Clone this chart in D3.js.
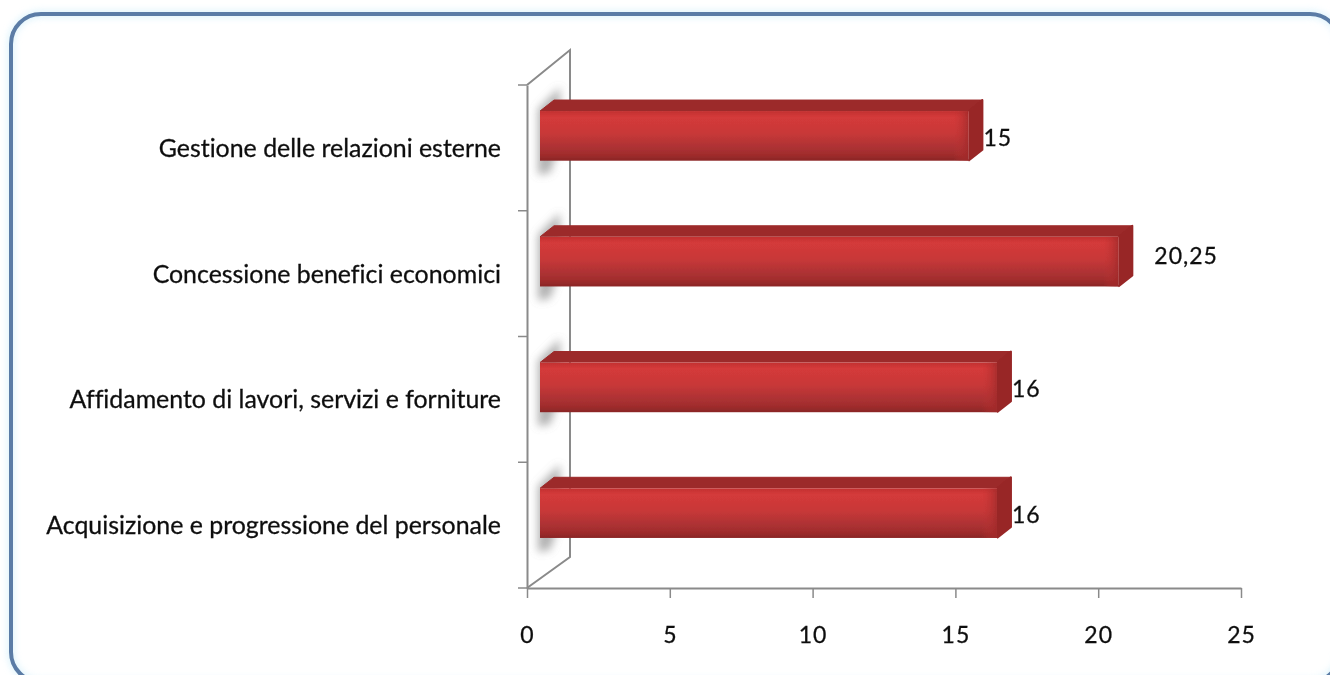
<!DOCTYPE html>
<html>
<head>
<meta charset="utf-8">
<script src="https://cdn.jsdelivr.net/npm/d3@7"></script>
<style>
  html, body { margin: 0; padding: 0; background: #fff; overflow: hidden; }
  svg { display: block; }
  text { font-family: Lato, "Open Sans", sans-serif; fill: #111; stroke: #111; stroke-width: 0.3px; font-variant-ligatures: none; }
</style>
</head>
<body>
<svg id="chart" width="1330" height="675"></svg>
<script>
"use strict";

var categories = [
  "Gestione delle relazioni esterne",
  "Concessione benefici economici",
  "Affidamento di lavori, servizi e forniture",
  "Acquisizione e progressione del personale"
];
var values = [15, 20.25, 16, 16];
var xTickValues = [0, 5, 10, 15, 20, 25];

var config = {
  x0: 527, x1: 1241, yTop: 85, yBottom: 588,
  wallDx: 43, wallDy: 31,
  barDx: 13, barDy: 12,
  sideDx: 14, sideDy: 11,
  axisColor: "#8a8a8a"
};

var svg = d3.select("#chart");
var defs = svg.append("defs");

var frontGrad = defs.append("linearGradient").attr("id", "barFront")
  .attr("x1", 0).attr("y1", 0).attr("x2", 0).attr("y2", 1);
[[0, "#c23030"], [0.12, "#d43a3a"], [0.45, "#c83838"], [0.72, "#ae3234"], [0.88, "#a02c2c"], [1, "#8a2626"]]
  .forEach(function(s) { frontGrad.append("stop").attr("offset", s[0]).attr("stop-color", s[1]); });

var endGrad = defs.append("linearGradient").attr("id", "barEnd")
  .attr("x1", 0).attr("y1", 0).attr("x2", 1).attr("y2", 0);
[[0, "#c23232", 0], [1, "#a02a2a", 0.8]]
  .forEach(function(s) {
    endGrad.append("stop").attr("offset", s[0]).attr("stop-color", s[1]).attr("stop-opacity", s[2]);
  });

defs.append("filter").attr("id", "soft").attr("x", "-80%").attr("y", "-30%").attr("width", "260%").attr("height", "160%")
  .append("feGaussianBlur").attr("stdDeviation", 4);
defs.append("filter").attr("id", "jpeg")
  .append("feGaussianBlur").attr("stdDeviation", 0.45);
defs.append("filter").attr("id", "glow").attr("x", "-5%").attr("y", "-5%").attr("width", "110%").attr("height", "110%")
  .append("feGaussianBlur").attr("stdDeviation", 3);

// rounded frame runs off the page on the right and at the bottom
svg.append("rect")
  .attr("x", 11).attr("y", 14).attr("width", 1329).attr("height", 668).attr("rx", 30)
  .attr("fill", "none").attr("stroke", "#cfeefa").attr("stroke-width", 8)
  .attr("filter", "url(#glow)").attr("opacity", 0.6);
svg.append("rect")
  .attr("x", 11).attr("y", 14).attr("width", 1329).attr("height", 668).attr("rx", 30)
  .attr("fill", "none").attr("stroke", "#5b7ca6").attr("stroke-width", 4);

var x = d3.scaleLinear().domain([0, 25]).range([config.x0, config.x1]);
var y = d3.scaleBand().domain(categories).range([config.yTop, config.yBottom]).paddingInner(0);
var barHeight = y.bandwidth() * 0.395;

var plot = svg.append("g").attr("filter", "url(#jpeg)");

// side wall of the 3d box
plot.append("path")
  .attr("d", d3.line()([
    [config.x0, config.yBottom],
    [config.x0 + config.wallDx, config.yBottom - config.wallDy],
    [config.x0 + config.wallDx, config.yTop - 35],
    [config.x0, config.yTop]
  ]))
  .attr("fill", "none").attr("stroke", config.axisColor).attr("stroke-width", 2);

var yAxis = plot.append("g")
  .attr("transform", "translate(" + config.x0 + ",0)")
  .call(d3.axisLeft(y).tickSize(0).tickPadding(26).tickSizeOuter(0));
yAxis.select(".domain").attr("stroke", config.axisColor).attr("stroke-width", 2);
yAxis.selectAll("text").style("font-size", "24.9px").attr("dy", "0.36em");

// category ticks sit on the band edges, not the centres
plot.selectAll("line.catTick")
  .data(categories.concat([null]))
  .enter().append("line")
  .classed("catTick", true)
  .attr("x1", config.x0 - 9).attr("x2", config.x0)
  .attr("y1", function(d) { return d === null ? config.yBottom : y(d); })
  .attr("y2", function(d) { return d === null ? config.yBottom : y(d); })
  .attr("stroke", config.axisColor).attr("stroke-width", 1.5);

var xAxis = plot.append("g")
  .attr("transform", "translate(0," + config.yBottom + ")")
  .call(d3.axisBottom(x).tickValues(xTickValues).tickSize(10).tickSizeOuter(0).tickPadding(29));
xAxis.select(".domain").attr("stroke", config.axisColor).attr("stroke-width", 2);
xAxis.selectAll("line").attr("stroke", config.axisColor).attr("stroke-width", 1.5);
xAxis.selectAll("text").style("font-size", "23px").style("letter-spacing", "1px");

function barTop(d) {
  return y(d.cat) + y.bandwidth() / 2 - barHeight / 2 - config.barDy;
}
function barLeft() {
  return config.x0 + config.barDx;
}
function barRight(d) {
  return x(d.val) + config.barDx;
}

var data = categories.map(function(c, i) { return { cat: c, val: values[i] }; });
var bars = plot.selectAll("g.bar").data(data).enter().append("g").classed("bar", true);

// grey shadow cast on the wall
bars.append("path")
  .attr("d", function(d) {
    var t = barTop(d);
    return d3.line()([
      [barLeft() - 2, t - 2],
      [barLeft() + config.sideDx + 6, t - 24],
      [barLeft() + config.sideDx + 6, t + barHeight - 16],
      [barLeft() + 10, t + barHeight + 12],
      [barLeft() - 2, t + barHeight + 14]
    ]);
  })
  .attr("fill", "#999").attr("opacity", 0.75).attr("filter", "url(#soft)");

// top face
bars.append("path")
  .attr("d", function(d) {
    var t = barTop(d), l = barLeft(), r = barRight(d);
    return d3.line()([[l, t], [l + config.sideDx, t - config.sideDy], [r + config.sideDx, t - config.sideDy], [r, t]]);
  })
  .attr("fill", "#9c2a2a").attr("stroke", "#9c2a2a").attr("stroke-linejoin", "round");

// right face
bars.append("path")
  .attr("d", function(d) {
    var t = barTop(d), r = barRight(d);
    return d3.line()([
      [r, t], [r + config.sideDx, t - config.sideDy],
      [r + config.sideDx, t + barHeight - config.sideDy], [r, t + barHeight]
    ]);
  })
  .attr("fill", "#982828").attr("stroke", "#982828").attr("stroke-width", 2).attr("stroke-linejoin", "round");

// front face
bars.append("rect")
  .attr("x", barLeft)
  .attr("y", barTop)
  .attr("width", function(d) { return barRight(d) - barLeft(); })
  .attr("height", barHeight)
  .attr("fill", "url(#barFront)");

// darker bevel towards the end of the bar
bars.append("rect")
  .attr("x", function(d) { return barRight(d) - 15; })
  .attr("y", barTop)
  .attr("width", 15)
  .attr("height", barHeight)
  .attr("fill", "url(#barEnd)");

// value labels, decimals are pushed further out as in the source
bars.append("text")
  .attr("x", function(d) {
    return barRight(d) + config.sideDx + (Number.isInteger(d.val) ? 1 : 22);
  })
  .attr("y", function(d) {
    return barTop(d) + barHeight / 2 + (Number.isInteger(d.val) ? 2 : -6);
  })
  .attr("dy", "0.35em")
  .style("font-size", "23px")
  .style("letter-spacing", "1px")
  .text(function(d) { return String(d.val).replace(".", ","); });
</script>
</body>
</html>
